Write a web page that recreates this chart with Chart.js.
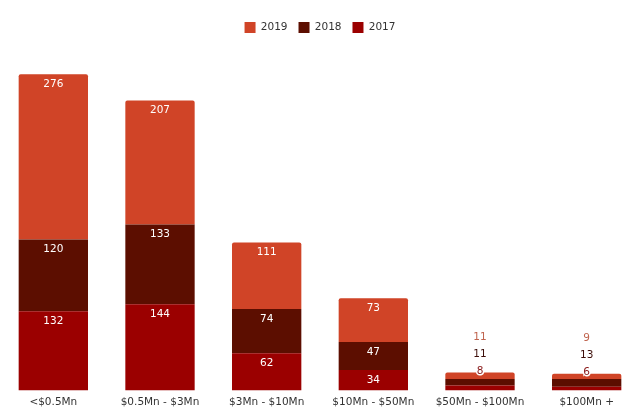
<!DOCTYPE html>
<html>
<head>
<meta charset="utf-8">
<script src="https://cdn.jsdelivr.net/npm/chart.js@4"></script>
<style>
    html, body { margin: 0; padding: 0; background: #fff; }
    .wrap { width: 640px; height: 417px; position: relative; }
</style>
</head>
<body>
<div class="wrap"><canvas id="revChart"></canvas></div>
<script>
const categories = ["<$0.5Mn", "$0.5Mn - $3Mn", "$3Mn - $10Mn", "$10Mn - $50Mn", "$50Mn - $100Mn", "$100Mn +"];
const values2017 = [132, 144, 62, 34, 8, 6];
const values2018 = [120, 133, 74, 47, 11, 13];
const values2019 = [276, 207, 111, 73, 11, 9];

const colors = { "2017": "#9b0000", "2018": "#5c0e00", "2019": "#d04427" };
const outsideColors = { "2017": "#8a1a1a", "2018": "#3d0e0a", "2019": "#c0644e" };
const fontFamily = "'DejaVu Sans', Verdana, sans-serif";

// draw value labels inside segments, or stacked above the bar when too small
const valueLabels = {
    id: "valueLabels",
    afterDatasetsDraw(chart) {
        const ctx = chart.ctx;
        ctx.save();
        ctx.font = "10.5px " + fontFamily;
        ctx.textAlign = "center";
        ctx.textBaseline = "middle";
        const n = chart.data.labels.length;
        for (let i = 0; i < n; i++) {
            let small = false;
            chart.data.datasets.forEach(function (ds, d) {
                const bar = chart.getDatasetMeta(d).data[i];
                if (Math.abs(bar.base - bar.y) < 20) small = true;
            });
            const topBar = chart.getDatasetMeta(chart.data.datasets.length - 1).data[i];
            chart.data.datasets.forEach(function (ds, d) {
                const bar = chart.getDatasetMeta(d).data[i];
                const v = ds.data[i];
                if (!small) {
                    ctx.fillStyle = "#ffffff";
                    ctx.fillText(v, bar.x, bar.y + 10);
                } else {
                    const y = topBar.y - 1 - d * 17;
                    ctx.lineWidth = 3;
                    ctx.strokeStyle = "#ffffff";
                    ctx.strokeText(v, bar.x, y);
                    ctx.fillStyle = outsideColors[ds.label];
                    ctx.fillText(v, bar.x, y);
                }
            });
        }
        ctx.restore();
    }
};

const ctx = document.getElementById("revChart").getContext("2d");
new Chart(ctx, {
    type: "bar",
    data: {
        labels: categories,
        datasets: [
            { label: "2017", data: values2017, backgroundColor: colors["2017"] },
            { label: "2018", data: values2018, backgroundColor: colors["2018"] },
            { label: "2019", data: values2019, backgroundColor: colors["2019"],
              borderRadius: { topLeft: 2, topRight: 2 }, borderSkipped: "bottom" }
        ]
    },
    options: {
        responsive: true,
        maintainAspectRatio: false,
        animation: false,
        layout: { padding: { left: 0, right: 0, top: 11, bottom: 10 } },
        datasets: { bar: { barPercentage: 0.65, categoryPercentage: 1 } },
        plugins: {
            legend: {
                reverse: true,
                labels: {
                    boxWidth: 11,
                    boxHeight: 11,
                    padding: 11,
                    color: "#333",
                    font: { family: fontFamily, size: 10.5 }
                }
            },
            tooltip: { enabled: false }
        },
        scales: {
            x: {
                stacked: true,
                grid: { display: false },
                border: { display: false },
                ticks: {
                    color: "#333",
                    padding: -2,
                    maxRotation: 0,
                    autoSkip: false,
                    font: { family: fontFamily, size: 10.5 }
                }
            },
            y: {
                stacked: true,
                display: false,
                min: 0,
                max: 580
            }
        }
    },
    plugins: [valueLabels]
});
</script>
</body>
</html>
